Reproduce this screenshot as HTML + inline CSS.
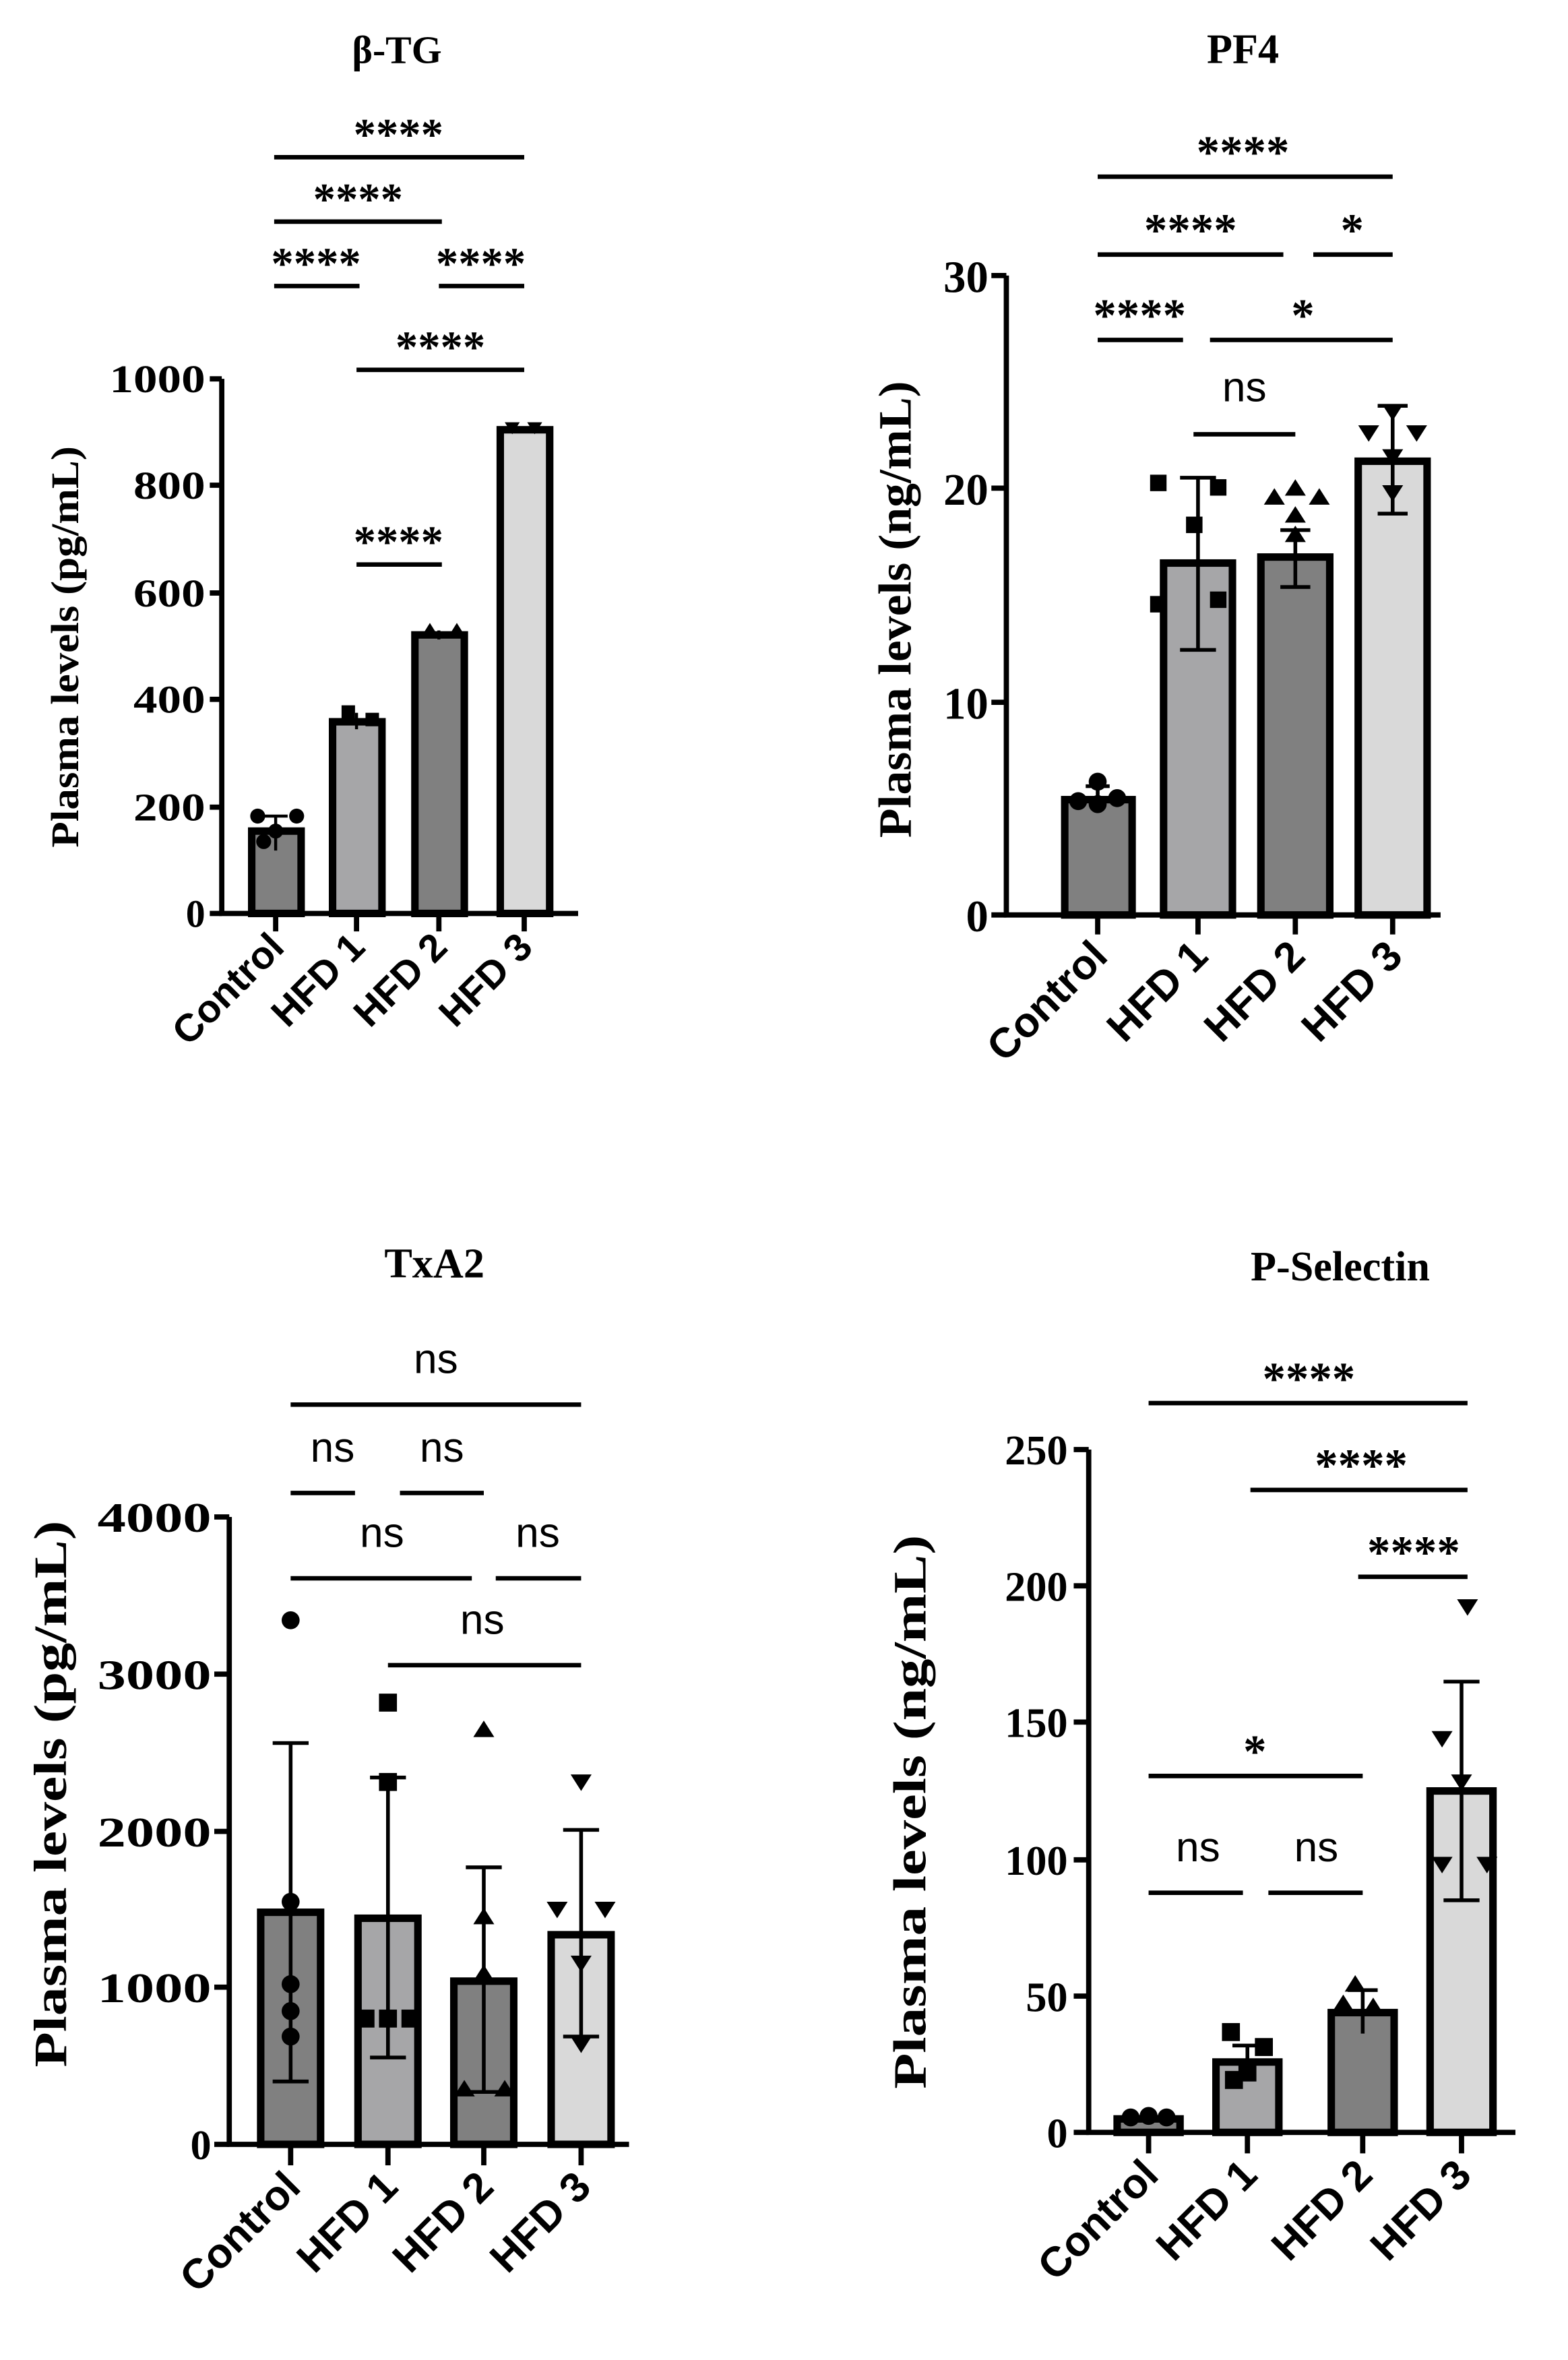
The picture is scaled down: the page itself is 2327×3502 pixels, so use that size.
<!DOCTYPE html>
<html><head><meta charset="utf-8"><style>
html,body{margin:0;padding:0;background:#fff}
svg{display:block}
.t{font-family:"Liberation Serif",serif;font-weight:bold}
.s{font-family:"Liberation Sans",sans-serif;font-weight:bold}
.n{font-family:"Liberation Sans",sans-serif}
</style></head><body>
<svg width="2327" height="3502" viewBox="0 0 1047 1576" xmlns="http://www.w3.org/2000/svg">
<rect width="1047" height="1576" fill="#fff"/>
<g stroke="#000" fill="none" stroke-linecap="butt">
<!-- Panel 1 -->
<g>
<text class="t" x="265" y="42" font-size="26" text-anchor="middle" fill="#000" stroke="none">β-TG</text>
<path d="M148 253V610H386" stroke-width="3.5"/>
<path d="M140 253H148M140 324H148M140 396H148M140 467H148M140 539H148M140 610H148" stroke-width="3.5"/>
<path d="M184 610V622M238 610V622M293 610V622M350 610V622" stroke-width="3.5"/>
<rect x="168" y="555" width="33" height="55" fill="#808080" stroke-width="5"/>
<rect x="222" y="482" width="33" height="128" fill="#a6a6a8" stroke-width="5"/>
<rect x="277" y="424" width="33" height="186" fill="#808080" stroke-width="5"/>
<rect x="334" y="287" width="33" height="323" fill="#d9d9d9" stroke-width="5"/>
<path d="M184 545V568M176 545H192M238 476V487M293 421V427M350 285V289" stroke-width="2"/>
<g fill="#000" stroke="none">
<circle cx="172" cy="545" r="5"/><circle cx="198" cy="545" r="5"/><circle cx="184" cy="555" r="5"/><circle cx="176" cy="562" r="5"/>
<rect x="228" y="471" width="9" height="9"/><rect x="244" y="476" width="9" height="9"/>
<path d="M282 424l5-8l5 8zM300 424l5-8l5 8z"/>
<path d="M337 282h10l-5 8zM352 282h10l-5 8z"/>
</g>
<g stroke-width="3">
<path d="M183 105H350M183 148H295M183 191H240M293 191H350M238 247H350M238 377H295"/>
</g>
<g class="t" font-size="30" fill="#000" stroke="none" text-anchor="middle">
<text x="266" y="100">****</text><text x="239" y="143">****</text><text x="211" y="186">****</text><text x="321" y="186">****</text><text x="294" y="242">****</text><text x="266" y="372">****</text>
</g>
<g class="t" font-size="26" fill="#000" stroke="none" text-anchor="end">
<text x="137" y="262" textLength="64" lengthAdjust="spacingAndGlyphs">1000</text><text x="137" y="333" textLength="48" lengthAdjust="spacingAndGlyphs">800</text><text x="137" y="405" textLength="48" lengthAdjust="spacingAndGlyphs">600</text><text x="137" y="476" textLength="48" lengthAdjust="spacingAndGlyphs">400</text><text x="137" y="548" textLength="48" lengthAdjust="spacingAndGlyphs">200</text><text x="137" y="619">0</text>
</g>
<text class="t" transform="translate(52 432) rotate(-90)" font-size="26" text-anchor="middle" textLength="268" lengthAdjust="spacingAndGlyphs" fill="#000" stroke="none">Plasma levels (pg/mL)</text>
<g class="s" font-size="26" fill="#000" stroke="none" text-anchor="end">
<text transform="translate(191 634) rotate(-45)">Control</text>
<text transform="translate(245 634) rotate(-45)">HFD 1</text>
<text transform="translate(300 634) rotate(-45)">HFD 2</text>
<text transform="translate(357 634) rotate(-45)">HFD 3</text>
</g>
</g>
<!-- Panel 2 -->
<g>
<text class="t" x="830" y="42" font-size="28" text-anchor="middle" fill="#000" stroke="none">PF4</text>
<path d="M672 184V611H962" stroke-width="3.5"/>
<path d="M662 184H672M662 326H672M662 469H672M662 611H672" stroke-width="3.5"/>
<path d="M733 611V624M800 611V624M865 611V624M930 611V624" stroke-width="3.5"/>
<rect x="711" y="534" width="45" height="77" fill="#808080" stroke-width="5"/>
<rect x="777" y="376" width="46" height="235" fill="#a6a6a8" stroke-width="5"/>
<rect x="842" y="372" width="46" height="239" fill="#808080" stroke-width="5"/>
<rect x="907" y="308" width="46" height="303" fill="#d9d9d9" stroke-width="5"/>
<path d="M733 525V540M725 525H741M800 319V434M788 319H812M788 434H812M865 354V392M855 354H875M855 392H875M930 271V343M920 271H940M920 343H940" stroke-width="2.5"/>
<g fill="#000" stroke="none">
<circle cx="733" cy="522" r="6"/><circle cx="720" cy="535" r="6"/><circle cx="746" cy="533" r="6"/><circle cx="733" cy="537" r="6"/>
<rect x="768" y="317" width="11" height="11"/><rect x="808" y="320" width="11" height="11"/><rect x="792" y="345" width="11" height="11"/><rect x="768" y="398" width="11" height="11"/><rect x="808" y="395" width="11" height="11"/>
<path d="M844 337l7-11l7 11zM858 331l7-11l7 11zM874 337l7-11l7 11zM858 349l7-11l7 11zM858 362l7-11l7 11z"/>
<path d="M907 284h14l-7 11zM939 284h14l-7 11zM923 300h14l-7 11zM923 324h14l-7 11zM923 270h14l-7 11z"/>
</g>
<g stroke-width="3">
<path d="M733 118H930M733 170H857M877 170H930M733 227H790M808 227H930M797 290H865"/>
</g>
<g class="t" font-size="31" fill="#000" stroke="none" text-anchor="middle">
<text x="830" y="112">****</text><text x="795" y="164">****</text><text x="903" y="164">*</text><text x="761" y="221">****</text><text x="870" y="221">*</text>
</g>
<text class="n" x="831" y="268" font-size="28" text-anchor="middle" fill="#000" stroke="none">ns</text>
<g class="t" font-size="30" fill="#000" stroke="none" text-anchor="end">
<text x="660" y="195">30</text><text x="660" y="337">20</text><text x="660" y="480">10</text><text x="660" y="622">0</text>
</g>
<text class="t" transform="translate(608 407) rotate(-90)" font-size="31" text-anchor="middle" textLength="305" lengthAdjust="spacingAndGlyphs" fill="#000" stroke="none">Plasma levels (ng/mL)</text>
<g class="s" font-size="28" fill="#000" stroke="none" text-anchor="end">
<text transform="translate(741 640) rotate(-45)">Control</text>
<text transform="translate(808 640) rotate(-45)">HFD 1</text>
<text transform="translate(873 640) rotate(-45)">HFD 2</text>
<text transform="translate(938 640) rotate(-45)">HFD 3</text>
</g>
</g>
<!-- Panel 3 -->
<g>
<text class="t" x="290" y="853" font-size="28" text-anchor="middle" fill="#000" stroke="none">TxA2</text>
<path d="M153 1013V1432H420" stroke-width="3.5"/>
<path d="M143 1013H153M143 1118H153M143 1223H153M143 1327H153M143 1432H153" stroke-width="3.5"/>
<path d="M194 1432V1446M259 1432V1446M323 1432V1446M388 1432V1446" stroke-width="3.5"/>
<rect x="174" y="1277" width="40" height="155" fill="#808080" stroke-width="5"/>
<rect x="239" y="1281" width="40" height="151" fill="#a6a6a8" stroke-width="5"/>
<rect x="303" y="1323" width="40" height="109" fill="#808080" stroke-width="5"/>
<rect x="368" y="1292" width="40" height="140" fill="#d9d9d9" stroke-width="5"/>
<path d="M194 1164V1390M182 1164H206M182 1390H206M259 1187V1374M247 1187H271M247 1374H271M323 1247V1397M311 1247H335M311 1397H335M388 1222V1360M376 1222H400M376 1360H400" stroke-width="2.5"/>
<g fill="#000" stroke="none">
<circle cx="194" cy="1082" r="6"/><circle cx="194" cy="1270" r="6"/><circle cx="194" cy="1325" r="6"/><circle cx="194" cy="1343" r="6"/><circle cx="194" cy="1360" r="6"/>
<rect x="253" y="1131" width="12" height="12"/><rect x="253" y="1184" width="12" height="12"/><rect x="238" y="1342" width="12" height="12"/><rect x="253" y="1342" width="12" height="12"/><rect x="268" y="1342" width="12" height="12"/>
<path d="M316 1160l7-11l7 11zM316 1285l7-11l7 11zM316 1323l7-11l7 11zM303 1400l7-11l7 11zM330 1400l7-11l7 11z"/>
<path d="M381 1185h14l-7 11zM365 1270h14l-7 11zM397 1270h14l-7 11zM381 1306h14l-7 11zM381 1360h14l-7 11z"/>
</g>
<g stroke-width="3">
<path d="M194 938H388M194 997H237M267 997H323M194 1054H315M331 1054H388M259 1112H388"/>
</g>
<g class="n" font-size="28" fill="#000" stroke="none" text-anchor="middle">
<text x="291" y="917">ns</text><text x="222" y="976">ns</text><text x="295" y="976">ns</text><text x="255" y="1033">ns</text><text x="359" y="1033">ns</text><text x="322" y="1091">ns</text>
</g>
<g class="t" font-size="28" fill="#000" stroke="none" text-anchor="end">
<text x="141" y="1023" textLength="76" lengthAdjust="spacingAndGlyphs">4000</text><text x="141" y="1128" textLength="76" lengthAdjust="spacingAndGlyphs">3000</text><text x="141" y="1233" textLength="76" lengthAdjust="spacingAndGlyphs">2000</text><text x="141" y="1337" textLength="76" lengthAdjust="spacingAndGlyphs">1000</text><text x="141" y="1442">0</text>
</g>
<text class="t" transform="translate(44 1198) rotate(-90)" font-size="31" text-anchor="middle" textLength="365" lengthAdjust="spacingAndGlyphs" fill="#000" stroke="none">Plasma levels (pg/mL)</text>
<g class="s" font-size="28" fill="#000" stroke="none" text-anchor="end">
<text transform="translate(202 1462) rotate(-45)">Control</text>
<text transform="translate(267 1462) rotate(-45)">HFD 1</text>
<text transform="translate(331 1462) rotate(-45)">HFD 2</text>
<text transform="translate(396 1462) rotate(-45)">HFD 3</text>
</g>
</g>
<!-- Panel 4 -->
<g>
<text class="t" x="895" y="855" font-size="28" text-anchor="middle" fill="#000" stroke="none">P-Selectin</text>
<path d="M727 968V1424H1012" stroke-width="3.5"/>
<path d="M717 968H727M717 1059H727M717 1150H727M717 1242H727M717 1333H727M717 1424H727" stroke-width="3.5"/>
<path d="M767 1424V1438M833 1424V1438M910 1424V1438M976 1424V1438" stroke-width="3.5"/>
<rect x="746" y="1415" width="42" height="9" fill="#808080" stroke-width="5"/>
<rect x="812" y="1377" width="42" height="47" fill="#a6a6a8" stroke-width="5"/>
<rect x="889" y="1344" width="42" height="80" fill="#808080" stroke-width="5"/>
<rect x="955" y="1196" width="42" height="228" fill="#d9d9d9" stroke-width="5"/>
<path d="M833 1366V1388M823 1366H843M910 1329V1358M900 1329H920M976 1123V1269M964 1123H988M964 1269H988" stroke-width="2.5"/>
<g fill="#000" stroke="none">
<circle cx="755" cy="1414" r="6"/><circle cx="767" cy="1413" r="6"/><circle cx="779" cy="1414" r="6"/>
<rect x="816" y="1351" width="12" height="12"/><rect x="838" y="1361" width="12" height="12"/><rect x="827" y="1378" width="12" height="12"/><rect x="818" y="1383" width="12" height="12"/>
<path d="M898 1330l7-11l7 11zM910 1345l7-11l7 11zM890 1343l7-11l7 11z"/>
<path d="M973 1068h14l-7 11zM956 1156h14l-7 11zM969 1185h14l-7 11zM956 1240h14l-7 11zM986 1240h14l-7 11z"/>
</g>
<g stroke-width="3">
<path d="M767 937H980M835 995H980M907 1053H980M767 1186H910M767 1264H830M847 1264H910"/>
</g>
<g class="t" font-size="31" fill="#000" stroke="none" text-anchor="middle">
<text x="874" y="931">****</text><text x="909" y="989">****</text><text x="944" y="1047">****</text><text x="838" y="1180">*</text>
</g>
<g class="n" font-size="28" fill="#000" stroke="none" text-anchor="middle">
<text x="800" y="1243">ns</text><text x="879" y="1243">ns</text>
</g>
<g class="t" font-size="28" fill="#000" stroke="none" text-anchor="end">
<text x="713" y="978">250</text><text x="713" y="1069">200</text><text x="713" y="1160">150</text><text x="713" y="1252">100</text><text x="713" y="1343">50</text><text x="713" y="1434">0</text>
</g>
<text class="t" transform="translate(618 1210) rotate(-90)" font-size="31" text-anchor="middle" textLength="370" lengthAdjust="spacingAndGlyphs" fill="#000" stroke="none">Plasma levels (ng/mL)</text>
<g class="s" font-size="28" fill="#000" stroke="none" text-anchor="end">
<text transform="translate(775 1454) rotate(-45)">Control</text>
<text transform="translate(841 1454) rotate(-45)">HFD 1</text>
<text transform="translate(918 1454) rotate(-45)">HFD 2</text>
<text transform="translate(984 1454) rotate(-45)">HFD 3</text>
</g>
</g>
</g>
</svg>
</body></html>
